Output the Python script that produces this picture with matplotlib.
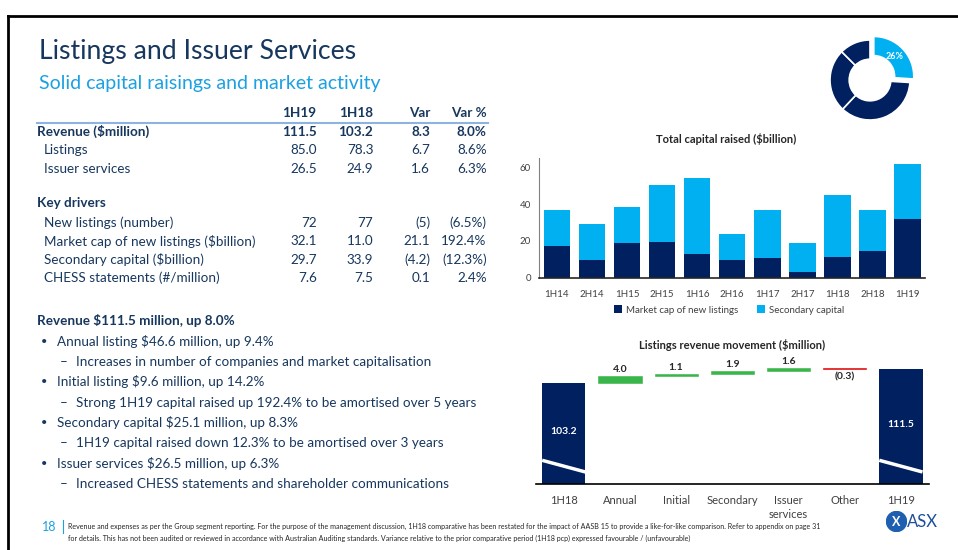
import numpy as np
import matplotlib
matplotlib.use('Agg')
import matplotlib.pyplot as plt
from matplotlib.lines import Line2D
from matplotlib.patches import Circle

plt.rcParams['font.family'] = ['Lato', 'DejaVu Sans']

W, H = 958, 550
NAVY = '#002060'
LBLUE = '#00B0F0'
GREEN = '#3AB54A'
RED = '#E00000'
TXT = '#17375E'
SUB = '#1BA1E2'
GREY = '#404040'

# ---- data ----
table_cols = ['1H19', '1H18', 'Var', 'Var %']
rev_rows = ['Revenue ($million)', 'Listings', 'Issuer services']
rev_vals = [['111.5', '103.2', '8.3', '8.0%'],
            ['85.0', '78.3', '6.7', '8.6%'],
            ['26.5', '24.9', '1.6', '6.3%']]
driver_rows = ['New listings (number)', 'Market cap of new listings ($billion)',
               'Secondary capital ($billion)', 'CHESS statements (#/million)']
driver_vals = [['72', '77', '(5)', '(6.5%)'],
               ['32.1', '11.0', '21.1', '192.4%'],
               ['29.7', '33.9', '(4.2)', '(12.3%)'],
               ['7.6', '7.5', '0.1', '2.4%']]

bullets = [
    (1, 'Annual listing $46.6 million, up 9.4%'),
    (2, 'Increases in number of companies and market capitalisation'),
    (1, 'Initial listing $9.6 million, up 14.2%'),
    (2, 'Strong 1H19 capital raised up 192.4% to be amortised over 5 years'),
    (1, 'Secondary capital $25.1 million, up 8.3%'),
    (2, '1H19 capital raised down 12.3% to be amortised over 3 years'),
    (1, 'Issuer services $26.5 million, up 6.3%'),
    (2, 'Increased CHESS statements and shareholder communications'),
]

periods = ['1H14', '2H14', '1H15', '2H15', '1H16', '2H16', '1H17', '2H17', '1H18', '2H18', '1H19']
market_cap = [17.5, 9.5, 18.7, 19.6, 13.1, 9.8, 10.9, 3.3, 11.0, 14.4, 32.1]
secondary = [19.2, 19.6, 19.7, 30.6, 41.3, 14.0, 25.8, 15.6, 33.9, 22.5, 29.7]

wf_labels = ['1H18', 'Annual', 'Initial', 'Secondary', 'Issuer\nservices', 'Other', '1H19']
wf_start = 103.2
wf_moves = [4.0, 1.1, 1.9, 1.6, -0.3]
wf_end = 111.5

donut_share = [26, 36, 25.5, 12.5]

footer1 = ('Revenue and expenses as per the Group segment reporting. For the purpose of the management '
           'discussion, 1H18 comparative has been restated for the impact of AASB 15 to provide a '
           'like-for-like comparison. Refer to appendix on page 31')
footer2 = ('for details. This has not been audited or reviewed in accordance with Australian Auditing '
           'standards. Variance relative to the prior comparative period (1H18 pcp) expressed '
           'favourable / (unfavourable)')

fig = plt.figure(figsize=(W / 100, H / 100), dpi=100)


def px(x, y):
    return x / W, 1 - y / H


def box(l, t, r, b):
    return [l / W, 1 - b / H, (r - l) / W, (b - t) / H]


def ftext(x, y, s, **kw):
    kw.setdefault('va', 'center')
    fig.text(*px(x, y), s, **kw)


# slide frame
fig.add_artist(Line2D([8 / W, 8 / W], [0, 1 - 16 / H], transform=fig.transFigure, color='black', lw=2))
fig.add_artist(Line2D([8 / W, 1], [1 - 16 / H, 1 - 16 / H], transform=fig.transFigure, color='black', lw=2))

# titles
ftext(39, 52, 'Listings and Issuer Services', fontsize=19.2, color=TXT)
ftext(39, 83, 'Solid capital raisings and market activity', fontsize=14, color=SUB)

# table
col_x = [316.7, 373.3, 430, 486.7]
fs = 9.7
for cx, c in zip(col_x, table_cols):
    ftext(cx, 113, c, ha='right', fontsize=fs, fontweight='bold', color=TXT)
fig.add_artist(Line2D([37 / W, 488 / W], [1 - 122.7 / H] * 2, transform=fig.transFigure,
                      color='#8DB3E2', lw=1.5))
ys = [131.7, 150, 168.7]
for i, (name, vals) in enumerate(zip(rev_rows, rev_vals)):
    bold = 'bold' if i == 0 else 'normal'
    ftext(37.3 if i == 0 else 44, ys[i], name, fontsize=fs, fontweight=bold, color=TXT)
    for cx, v in zip(col_x, vals):
        ftext(cx, ys[i], v, ha='right', fontsize=fs, fontweight=bold, color=TXT)
ftext(37.3, 203.3, 'Key drivers', fontsize=fs, fontweight='bold', color=TXT)
ys = [222.7, 241, 260, 277.7]
for i, (name, vals) in enumerate(zip(driver_rows, driver_vals)):
    ftext(44, ys[i], name, fontsize=fs, color=TXT)
    for cx, v in zip(col_x, vals):
        ftext(cx, ys[i], v, ha='right', fontsize=fs, color=TXT)

# bullets
ftext(37.3, 320.7, 'Revenue $111.5 million, up 8.0%', fontsize=fs, fontweight='bold', color=TXT)
by = [341.7, 362, 381.7, 402.7, 422.7, 442.7, 463.7, 483.7]
for y, (lvl, s) in zip(by, bullets):
    if lvl == 1:
        ftext(40.7, y, '•', fontsize=8, color=TXT)
        ftext(57.3, y, s, fontsize=fs, color=TXT)
    else:
        ftext(60, y, '–', fontsize=fs, color=TXT)
        ftext(76, y, s, fontsize=fs, color=TXT)

# footer
ftext(49, 527, '18', ha='center', fontsize=9, color=SUB)
fig.add_artist(Line2D([63 / W, 63 / W], [1 - 520 / H, 1 - 533 / H], transform=fig.transFigure,
                      color=SUB, lw=0.8))
ftext(68, 526, footer1, fontsize=5.15, color='#262626')
ftext(68, 538, footer2, fontsize=5.15, color='#262626')

# ASX logo
axl = fig.add_axes(box(886, 511, 907, 532))
axl.add_patch(Circle((0, 0), 1, color='#1F5FAF'))
axl.text(0, 0, 'X', ha='center', va='center', color='white', fontsize=9, fontweight='bold')
axl.set_xlim(-1.05, 1.05)
axl.set_ylim(-1.05, 1.05)
axl.axis('off')
ftext(907, 522, 'ASX', fontsize=12, color='#1F4E9A')

# donut
axd = fig.add_axes(box(820, 30, 920, 130))
wedges, _ = axd.pie(donut_share, colors=[LBLUE, NAVY, NAVY, NAVY], startangle=90, counterclock=False,
                    explode=[0.13, 0, 0, 0], radius=1,
                    wedgeprops=dict(width=0.48, edgecolor='white', linewidth=1.2))
w0 = wedges[0]
mid = np.deg2rad((w0.theta1 + w0.theta2) / 2)
cx0, cy0 = w0.center
axd.text(cx0 + 0.72 * np.cos(mid), cy0 + 0.72 * np.sin(mid), f'{donut_share[0]}%',
         ha='center', va='center', color='white', fontsize=6.5, fontweight='bold')
axd.set_xlim(-1.25, 1.25)
axd.set_ylim(-1.25, 1.25)
axd.set_aspect('equal')
axd.axis('off')

# capital raised chart
ax1 = fig.add_axes(box(539.3, 158.3, 925, 277.7))
x = np.arange(len(periods))
ax1.bar(x, market_cap, width=0.76, color=NAVY, label='Market cap of new listings')
ax1.bar(x, secondary, width=0.76, bottom=market_cap, color=LBLUE, label='Secondary capital')
ax1.set_xlim(-0.5, len(periods) - 0.5)
ax1.set_ylim(0, 65)
ax1.set_yticks([0, 20, 40, 60])
ax1.set_xticks(x)
ax1.set_xticklabels(periods)
ax1.tick_params(length=0, labelsize=7, colors=GREY)
ax1.tick_params(axis='x', pad=9)
ax1.tick_params(axis='y', pad=6)
for s in ['top', 'right']:
    ax1.spines[s].set_visible(False)
ax1.spines['left'].set_color('#808080')
ax1.spines['bottom'].set_color('#262626')
ax1.spines['bottom'].set_linewidth(1.2)
ftext(726, 139.3, 'Total capital raised ($billion)', ha='center', fontsize=8, fontweight='bold', color='#262626')
ax1.legend(loc='center', bbox_to_anchor=px(729, 310), bbox_transform=fig.transFigure, ncol=2,
           frameon=False, fontsize=7, handlelength=0.8, handleheight=0.8, handletextpad=0.4,
           columnspacing=2.0, labelcolor=GREY)

# waterfall chart
ax2 = fig.add_axes(box(535.7, 360, 929, 484))
ymin = 42.4
xw = np.arange(len(wf_labels))
bw = 0.77
level = wf_start
ax2.bar(xw[0], wf_start, width=bw, color=NAVY)
for i, mv in enumerate(wf_moves, start=1):
    col = GREEN if mv >= 0 else RED
    ax2.bar(xw[i], mv, width=bw, bottom=level, color=col, edgecolor=col, linewidth=0.4)
    if mv >= 0:
        ax2.text(xw[i], level + mv + 1.2, f'{mv:.1f}', ha='center', va='bottom', fontsize=7.5,
                 fontweight='bold', color='#262626')
    else:
        ax2.text(xw[i], level + mv - 2.0, f'({abs(mv):.1f})', ha='center', va='top', fontsize=7.5,
                 fontweight='bold', color='#262626')
    level += mv
ax2.bar(xw[-1], wf_end, width=bw, color=NAVY)
for xi, v in [(xw[0], wf_start), (xw[-1], wf_end)]:
    ax2.text(xi, (ymin + v) / 2 + 1, f'{v:.1f}', ha='center', va='center', fontsize=7.5,
             fontweight='bold', color='white')
    ax2.plot([xi - bw / 2, xi + bw / 2], [56.6, 49.6], color='white', lw=2.5, solid_capstyle='butt')
ax2.set_xlim(-0.5, len(wf_labels) - 0.5)
ax2.set_ylim(ymin, 116.7)
ax2.set_xticks(xw)
ax2.set_xticklabels(wf_labels, linespacing=1.3)
ax2.set_yticks([])
ax2.tick_params(length=0, labelsize=8, colors=GREY, pad=8)
for s in ['top', 'right', 'left']:
    ax2.spines[s].set_visible(False)
ax2.spines['bottom'].set_color('black')
ax2.spines['bottom'].set_linewidth(1.2)
ftext(732, 345, 'Listings revenue movement ($million)', ha='center', fontsize=8, fontweight='bold',
      color='#262626')

fig.savefig('out.png', dpi=100)
